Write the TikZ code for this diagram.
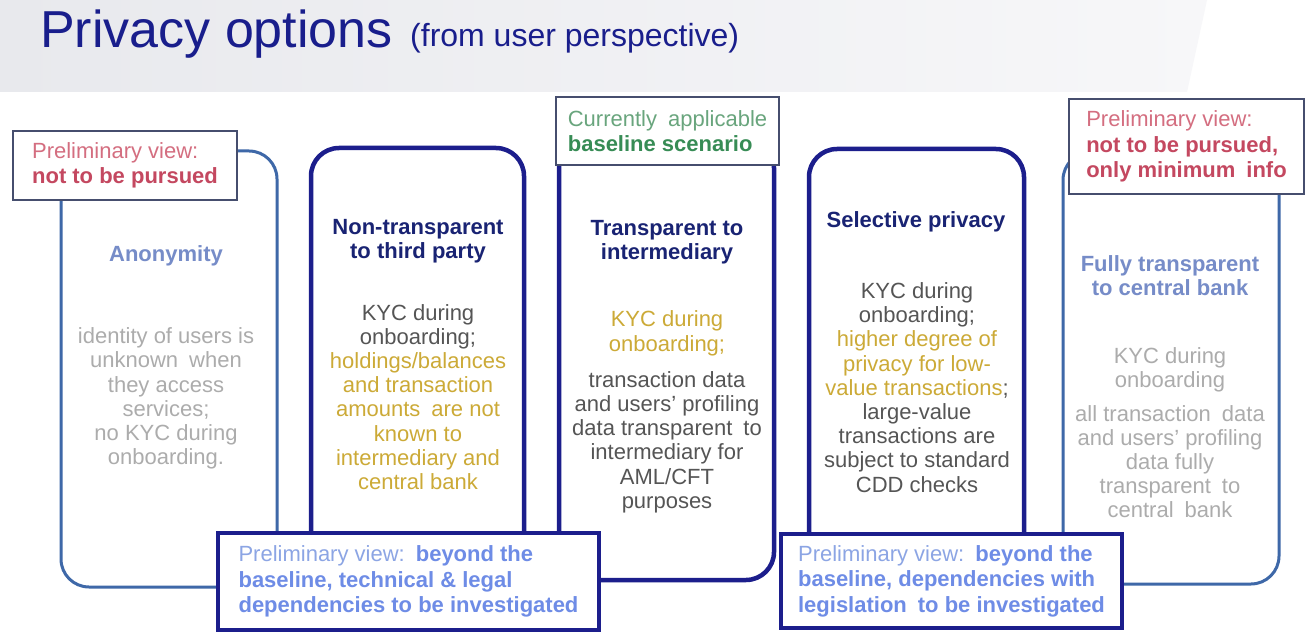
\documentclass[tikz,border=0pt]{standalone}
\usepackage{fontspec}
\setmainfont{Liberation Sans}
\definecolor{navy}{RGB}{28,30,140}
\definecolor{steel}{RGB}{62,104,168}
\definecolor{titleblue}{RGB}{25,30,140}
\definecolor{ttlnavy}{RGB}{25,35,115}
\definecolor{ttllight}{RGB}{118,140,200}
\definecolor{txtlight}{RGB}{172,172,172}
\definecolor{txtgray}{RGB}{85,85,85}
\definecolor{gold}{RGB}{204,170,55}
\definecolor{redA}{RGB}{212,110,128}
\definecolor{redB}{RGB}{196,72,96}
\definecolor{greenA}{RGB}{105,165,125}
\definecolor{greenB}{RGB}{55,140,85}
\definecolor{blueA}{RGB}{140,165,228}
\definecolor{blueB}{RGB}{110,140,230}
\definecolor{calloutedge}{RGB}{70,78,110}
\definecolor{bandL}{RGB}{232,233,237}
\definecolor{bandR}{RGB}{247,247,249}
\begin{document}
\begin{tikzpicture}[x=1pt,y=-1pt,
  optbox/.style={rounded corners=28pt, inner sep=0pt},
  navybox/.style={optbox, draw=navy, line width=4.5pt},
  steelbox/.style={optbox, draw=steel, line width=3pt},
  topcall/.style={draw=calloutedge, fill=white, line width=1.5pt, align=left, inner sep=0pt,
    font=\bfseries\fontsize{22}{25.5}\selectfont},
  botcall/.style={draw=navy, fill=white, line width=3.5pt, align=left, inner sep=0pt,
    font=\bfseries\fontsize{22}{25.5}\selectfont, text=blueB},
  body/.style={align=center, inner sep=0pt, font=\fontsize{22}{24.2}\selectfont},
  ttl/.style={align=center, inner sep=0pt, font=\bfseries\fontsize{22}{24}\selectfont}]
\useasboundingbox (0,0) rectangle (1314,636);
\fill[white] (0,0) rectangle (1314,636);
\shade[left color=bandL, right color=bandR] (0,0) -- (1207,0) -- (1187,92) -- (0,92) -- cycle;

% title
\node[anchor=base west, inner sep=0pt, text=titleblue, font=\fontsize{52}{56}\selectfont] (title) at (40,48) {Privacy options};
\node[anchor=base west, inner sep=0pt, text=titleblue, font=\fontsize{32}{36}\selectfont] (subtitle) at (410,47) {(from user perspective)};

% option boxes
\node[steelbox, minimum width=216pt, minimum height=436pt] (b1) at (169,369) {};
\node[navybox, minimum width=213pt, minimum height=442pt] (b2) at (417.5,369) {};
\node[navybox, minimum width=215pt, minimum height=440pt] (b3) at (666.5,360) {};
\node[navybox, minimum width=215pt, minimum height=441pt] (b4) at (916.5,369.5) {};
\node[steelbox, minimum width=216pt, minimum height=432pt] (b5) at (1171,368) {};

% box 1
\node[ttl, text=ttllight] (t1) at (166,256) {Anonymity};
\node[body, text=txtlight] (p1) at (166,398.5) {identity of users is\\unknown\enspace when\\they access\\services;\\no KYC during\\onboarding.};

% box 2
\node[ttl, text=ttlnavy] (t2) at (418,241) {Non-transparent\\to third party};
\node[body, text=txtgray] (p2) at (418,397) {KYC during\\onboarding;\\
  \textcolor{gold}{holdings/balances}\\\textcolor{gold}{and transaction}\\\textcolor{gold}{amounts\enspace are not}\\
  \textcolor{gold}{known to}\\\textcolor{gold}{intermediary and}\\\textcolor{gold}{central bank}};

% box 3
\node[ttl, text=ttlnavy] (t3) at (667,242) {Transparent to\\intermediary};
\node[body, text=txtgray] (p3) at (667,412) {\textcolor{gold}{KYC during}\\\textcolor{gold}{onboarding;}\\[12pt]
  transaction data\\and users’ profiling\\data transparent\enspace to\\intermediary for\\AML/CFT\\purposes};

% box 4
\node[ttl, text=ttlnavy] (t4) at (916,222) {Selective privacy};
\node[body, text=txtgray] (p4) at (917,387.5) {KYC during\\onboarding;\\
  \textcolor{gold}{higher degree of}\\\textcolor{gold}{privacy for low-}\\\textcolor{gold}{value transactions};\\
  large-value\\transactions are\\subject to standard\\CDD checks};

% box 5
\node[ttl, text=ttllight] (t5) at (1170,276) {Fully transparent\\to central bank};
\node[body, text=txtlight] (p5) at (1170,433) {KYC during\\onboarding\\[9pt]
  all transaction\enspace data\\and users’ profiling\\data fully\\transparent\enspace to\\central\enspace bank};

% top callouts
\node[topcall, text=redB, minimum width=224pt, minimum height=69pt] (c1) at (125,165.5)
  {\textmd{\textcolor{redA}{Preliminary view:}}\\not to be pursued};
\node[topcall, text=greenB, minimum width=223pt, minimum height=68pt] (c2) at (667.5,131)
  {\textmd{\textcolor{greenA}{Currently\enspace applicable}}\\baseline scenario};
\node[topcall, text=redB, minimum width=235pt, minimum height=95pt] (c3) at (1186.5,146.5)
  {\textmd{\textcolor{redA}{Preliminary view:}}\\not to be pursued,\\only minimum\enspace info};

% bottom callouts
\node[botcall, minimum width=381pt, minimum height=97pt] (d1) at (408.5,581.5)
  {\textmd{\textcolor{blueA}{Preliminary view:}}\enspace beyond the\\baseline, technical \& legal\\dependencies to be investigated};
\node[botcall, minimum width=341pt, minimum height=94pt] (d2) at (951.5,581)
  {\textmd{\textcolor{blueA}{Preliminary view:}}\enspace beyond the\\baseline, dependencies with\\legislation\enspace to be investigated};
\end{tikzpicture}
\end{document}
